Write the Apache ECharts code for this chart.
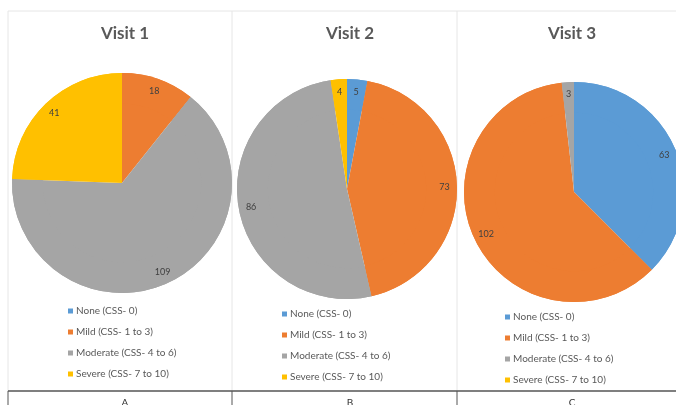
<!DOCTYPE html>
<html>
<head>
<meta charset="utf-8">
<script src="https://cdn.jsdelivr.net/npm/echarts@6/dist/echarts.min.js"></script>
<style>
  html, body { margin: 0; padding: 0; background: #fff; }
  #main { width: 676px; height: 405px; }
</style>
</head>
<body>
<div id="main"></div>
<script>
// data
var categories = ['None (CSS- 0)', 'Mild (CSS- 1 to 3)', 'Moderate (CSS- 4 to 6)', 'Severe (CSS- 7 to 10)'];
var colors = ['#5B9BD5', '#ED7D31', '#A5A5A5', '#FFC000'];
var visit1 = [0, 18, 109, 41];
var visit2 = [5, 73, 86, 4];
var visit3 = [63, 102, 3, 0];
var titles = ['Visit 1', 'Visit 2', 'Visit 3'];
var panelLetters = ['A', 'B', 'C'];

var chart = echarts.init(document.getElementById('main'));

// layout of the three panels
var centers = [[122, 183], [347, 189], [574, 192]];
var R = 110;
var legendPos = [[68, 305], [282, 308], [505, 311]];
var panelMid = [120, 345, 567];
var font = 'Lato, "Open Sans", sans-serif';

var toData = function (vals) {
    var out = [];
    for (var i = 0; i < categories.length; i++) {
        out.push({ name: categories[i], value: vals[i], itemStyle: { color: colors[i] } });
    }
    return out;
};

var allVisits = [visit1, visit2, visit3];
var series = [];
// pies
for (var k = 0; k < 3; k++) {
    series.push({
        type: 'pie',
        center: centers[k],
        radius: [0, R],
        startAngle: 90,
        clockwise: true,
        data: toData(allVisits[k]),
        label: { show: false },
        labelLine: { show: false },
        emphasis: { disabled: true },
        silent: true,
        animation: false
    });
}
// label rings, transparent, so that values sit near the rim like Excel
for (var k = 0; k < 3; k++) {
    series.push({
        type: 'pie',
        center: centers[k],
        radius: [R * 0.72, R],
        startAngle: 90,
        clockwise: true,
        data: toData(allVisits[k]),
        itemStyle: { color: 'rgba(0,0,0,0)' },
        label: {
            show: true,
            position: 'inside',
            color: '#404040',
            fontSize: 9,
            fontFamily: font,
            formatter: function (p) { return p.value ? String(p.value) : ''; }
        },
        labelLine: { show: false },
        emphasis: { disabled: true },
        silent: true,
        animation: false
    });
}

var title = [];
var legend = [];
for (var k = 0; k < 3; k++) {
    title.push({
        text: titles[k],
        left: panelMid[k],
        top: 20,
        textAlign: 'center',
        textStyle: { color: '#595959', fontSize: 17, fontWeight: 'bold', fontFamily: font }
    });
    title.push({
        text: panelLetters[k],
        left: panelMid[k],
        top: 393,
        textAlign: 'center',
        textStyle: { color: '#333', fontSize: 10, fontWeight: 'normal', fontFamily: font }
    });
    legend.push({
        data: categories,
        orient: 'vertical',
        left: legendPos[k][0],
        top: legendPos[k][1],
        padding: 0,
        icon: 'rect',
        itemWidth: 5,
        itemHeight: 5,
        itemGap: 9,
        selectedMode: false,
        textStyle: { color: '#595959', fontSize: 10, fontFamily: font, lineHeight: 12, padding: [0, 0, 0, -2] }
    });
}

// panel frame lines
var lineCol = '#e6e6e6';
var graphic = [
    { type: 'line', shape: { x1: 8, y1: 11, x2: 676, y2: 11 }, style: { stroke: lineCol, lineWidth: 1 } },
    { type: 'line', shape: { x1: 8, y1: 11, x2: 8, y2: 391 }, style: { stroke: lineCol, lineWidth: 1 } },
    { type: 'line', shape: { x1: 232, y1: 11, x2: 232, y2: 391 }, style: { stroke: lineCol, lineWidth: 1 } },
    { type: 'line', shape: { x1: 457, y1: 11, x2: 457, y2: 391 }, style: { stroke: lineCol, lineWidth: 1 } },
    { type: 'line', shape: { x1: 8, y1: 391, x2: 676, y2: 391 }, style: { stroke: '#555', lineWidth: 1.5 } },
    { type: 'line', shape: { x1: 8, y1: 391, x2: 8, y2: 405 }, style: { stroke: '#555', lineWidth: 1 } },
    { type: 'line', shape: { x1: 232, y1: 391, x2: 232, y2: 405 }, style: { stroke: '#555', lineWidth: 1 } },
    { type: 'line', shape: { x1: 457, y1: 391, x2: 457, y2: 405 }, style: { stroke: '#555', lineWidth: 1 } }
];

var option = {
    backgroundColor: '#fff',
    animation: false,
    title: title,
    legend: legend,
    graphic: graphic,
    series: series
};

chart.setOption(option);
</script>
</body>
</html>
